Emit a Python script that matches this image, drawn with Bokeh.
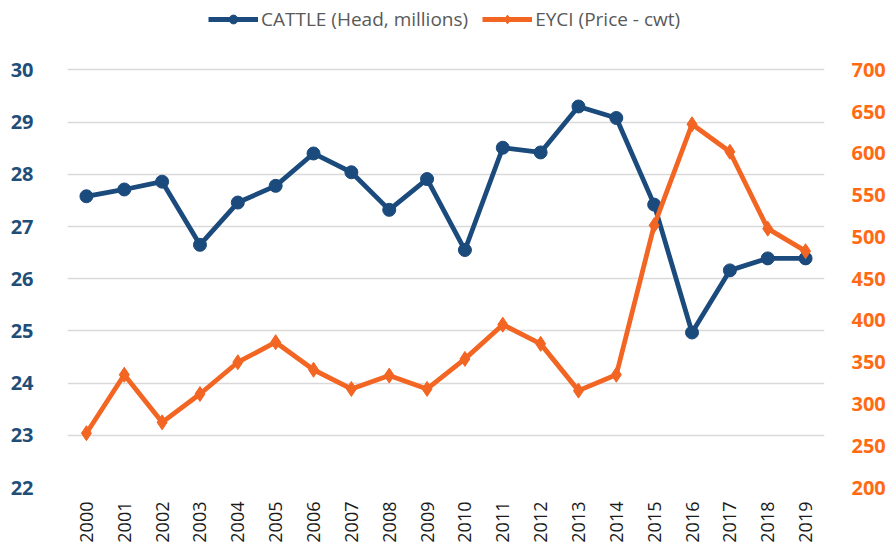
from bokeh.plotting import figure
from bokeh.models import Range1d, FactorRange, LinearAxis, FixedTicker, Legend, LegendItem, ColumnDataSource
from bokeh.embed import file_html
from bokeh.resources import INLINE
import math

years = [str(y) for y in range(2000, 2020)]
cattle = [27.58, 27.71, 27.86, 26.65, 27.46, 27.78, 28.40, 28.04, 27.32, 27.91,
          26.55, 28.51, 28.42, 29.30, 29.08, 27.42, 24.97, 26.16, 26.39, 26.39]
eyci = [265, 335, 278, 312, 350, 374, 341, 318, 334, 318,
        354, 395, 372, 316, 335, 514, 635, 602, 510, 483]
left_ticks = [22, 23, 24, 25, 26, 27, 28, 29, 30]
right_ticks = [200, 250, 300, 350, 400, 450, 500, 550, 600, 650, 700]

BLUE = "#1B4A7C"
ORANGE = "#F26522"
FONT = "Open Sans"

W, H = 888, 545
TOP, BOTTOM, LEFT, RIGHT = 5, 54, 67, 59
GRID_TOP_PX = 70          # pixel row of the top gridline
frame_h = H - TOP - BOTTOM
grid_h = frame_h - (GRID_TOP_PX - TOP)
l_lo, l_hi = left_ticks[0], left_ticks[-1]
r_lo, r_hi = right_ticks[0], right_ticks[-1]
l_top = l_lo + (l_hi - l_lo) * frame_h / grid_h
r_top = r_lo + (r_hi - r_lo) * frame_h / grid_h

p = figure(width=W, height=H, x_range=FactorRange(*years, range_padding=0),
           y_range=Range1d(l_lo, l_top), output_backend="svg", toolbar_location=None,
           min_border_left=LEFT, min_border_right=RIGHT, min_border_top=TOP, min_border_bottom=BOTTOM)
p.outline_line_color = None
p.extra_y_ranges = {"price": Range1d(r_lo, r_top)}

src = ColumnDataSource(dict(year=years, cattle=cattle, eyci=eyci))

l1 = p.line("year", "cattle", source=src, line_color=BLUE, line_width=4.8)
m1 = p.scatter("year", "cattle", source=src, marker="circle", size=13, color=BLUE)
l2 = p.line("year", "eyci", source=src, line_color=ORANGE, line_width=4.8, y_range_name="price")
m2 = p.scatter("year", "eyci", source=src, marker="diamond", size=15, color=ORANGE, y_range_name="price")

# grid
p.xgrid.grid_line_color = None
p.ygrid.grid_line_color = "#D9D9D9"
p.ygrid.grid_line_width = 1.5
p.yaxis.ticker = FixedTicker(ticks=left_ticks)

# left axis
ya = p.yaxis[0]
ya.axis_line_color = None
ya.major_tick_line_color = None
ya.minor_tick_line_color = None
ya.major_label_text_font = FONT
ya.major_label_text_font_style = "bold"
ya.major_label_text_font_size = "20px"
ya.major_label_text_color = "#1F4E79"
ya.major_label_standoff = 28

# right axis
ra = LinearAxis(y_range_name="price", ticker=FixedTicker(ticks=right_ticks))
ra.axis_line_color = None
ra.major_tick_line_color = None
ra.minor_tick_line_color = None
ra.major_label_text_font = FONT
ra.major_label_text_font_style = "bold"
ra.major_label_text_font_size = "20px"
ra.major_label_text_color = "#FF6A13"
ra.major_label_standoff = 21
p.add_layout(ra, "right")

# x axis
xa = p.xaxis[0]
xa.axis_line_color = None
xa.major_tick_line_color = None
xa.minor_tick_line_color = None
xa.major_label_orientation = math.pi / 2
xa.major_label_text_font = FONT
xa.major_label_text_font_size = "18px"
xa.major_label_text_color = "#1a1a1a"
xa.major_label_standoff = 8

legend = Legend(items=[LegendItem(label="CATTLE (Head, millions)", renderers=[l1, m1]),
                       LegendItem(label="EYCI (Price - cwt)", renderers=[l2, m2])],
                orientation="horizontal", location=(141, 455))
legend.padding = 0
legend.margin = 0
legend.spacing = 14
legend.border_line_color = None
legend.background_fill_alpha = 0
legend.glyph_width = 50
legend.glyph_height = 22
legend.label_height = 22
legend.label_standoff = 3
legend.label_text_font = FONT
legend.label_text_font_size = "19px"
legend.label_text_color = "#595959"
p.add_layout(legend, "center")

open("out.html", "w").write(file_html(p, INLINE))
